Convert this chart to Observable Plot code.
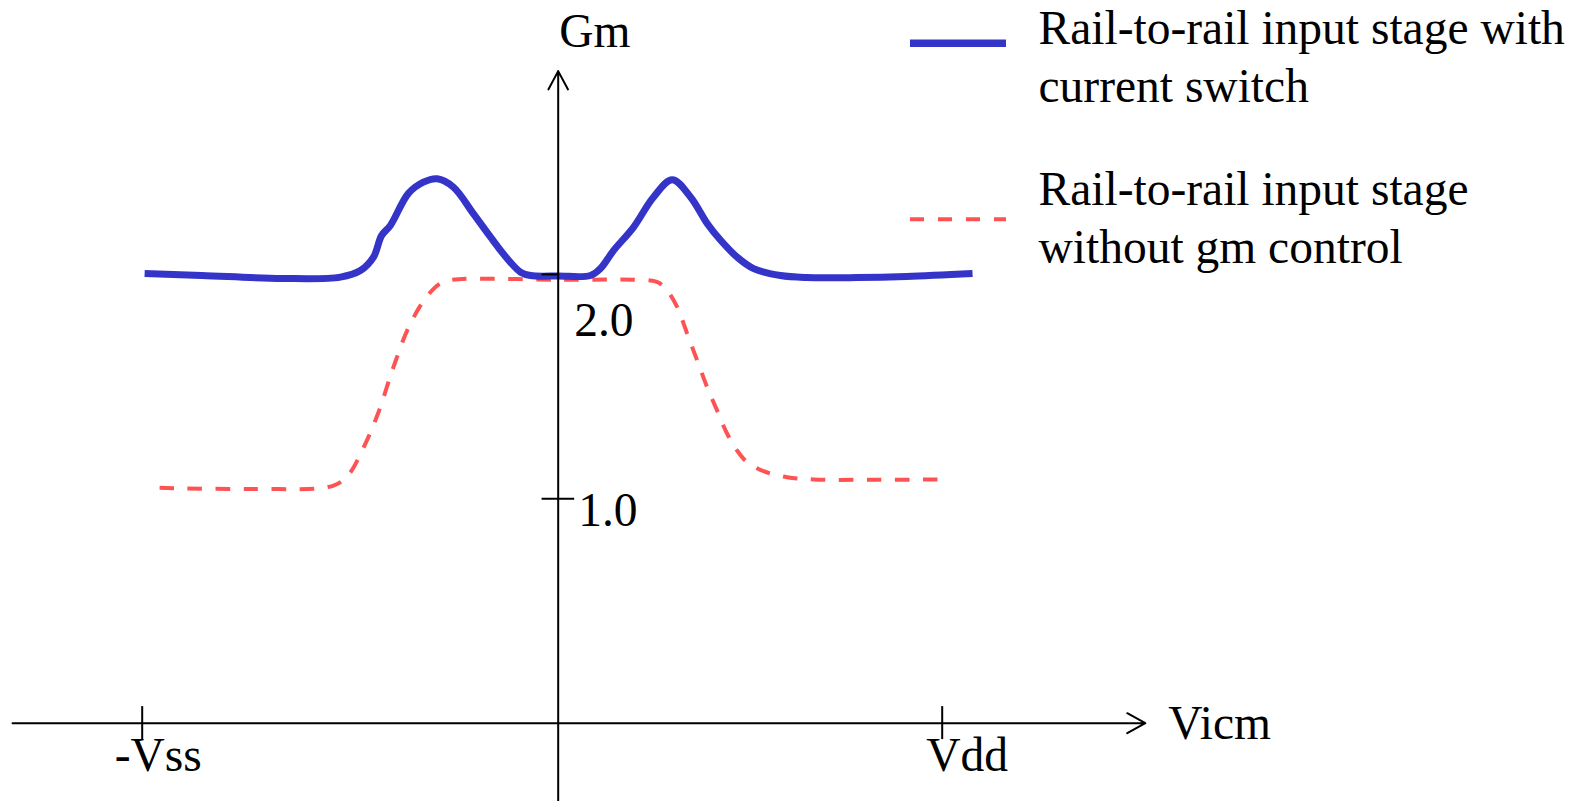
<!DOCTYPE html>
<html><head><meta charset="utf-8">
<script src="https://cdn.jsdelivr.net/npm/d3@7"></script>
<script src="https://cdn.jsdelivr.net/npm/@observablehq/plot@0.6"></script>
<style>html,body{margin:0;padding:0;background:#fff;overflow:hidden}</style>
</head><body><div id="chart"></div>
<script>
// ---- data (Vicm normalised so that Vdd = 1; Gm in chart units) ----
const seriesNames = ["Rail-to-rail input stage with\ncurrent switch", "Rail-to-rail input stage\nwithout gm control"];
const switchVicm = [-1.077,-0.928,-0.718,-0.567,-0.515,-0.481,-0.460,-0.437,-0.390,-0.351,-0.315,-0.273,-0.221,-0.176,-0.133,-0.098,-0.072,0,0.084,0.110,0.144,0.196,0.248,0.297,0.345,0.388,0.423,0.466,0.509,0.579,0.647,0.777,0.907,1.079];
const switchGm   = [2.004,1.995,1.982,1.988,2.017,2.077,2.173,2.218,2.361,2.411,2.426,2.389,2.271,2.166,2.071,2.010,1.995,1.993,1.995,2.026,2.106,2.210,2.344,2.422,2.344,2.227,2.152,2.077,2.026,1.995,1.986,1.986,1.991,2.004];
const noCtrlVicm = [-1.038,-0.797,-0.587,-0.548,-0.508,-0.469,-0.430,-0.390,-0.346,-0.307,-0.275,0,0.240,0.261,0.284,0.310,0.336,0.362,0.388,0.414,0.440,0.466,0.492,0.535,0.596,0.666,0.822,0.996];
const noCtrlGm   = [1.049,1.044,1.058,1.103,1.224,1.381,1.582,1.762,1.893,1.960,1.976,1.976,1.973,1.964,1.928,1.854,1.735,1.616,1.497,1.393,1.290,1.215,1.163,1.123,1.096,1.086,1.085,1.086];
const xTickValues = [-1.0833, 1];
const xTickLabels = ["-Vss", "Vdd"];
const yTickValues = [1, 2];
const yTickLabels = ["1.0", "2.0"];
const xAxisTitle = "Vicm";
const yAxisTitle = "Gm";

// ---- layout / styles ----
const colors = ["#3434c9", "#ff5252"];
const font = "Liberation Serif";
const fs = 47.5;
const xAxisSpan = [-1.421, 1.529];
const yAxisSpan = [-0.36, 2.906];
const legendX = [0.9174, 1.1674];
const legendY = [3.030, 2.246];
const legendTextX = 1.2508;
const xLabelOffsets = [[16, 47.5], [25, 47.5]];
const yLabelOffsets = [[20, 27], [16, 62]];

const switchData = switchVicm.map((x, i) => ({x, y: switchGm[i]}));
const noCtrlData = noCtrlVicm.map((x, i) => ({x, y: noCtrlGm[i]}));

const textOpts = {fontFamily: font, fontSize: fs, fill: "black", lineAnchor: "bottom"};

const chart = Plot.plot({
  width: 1579, height: 801,
  marginTop: 0, marginRight: 0, marginBottom: 0, marginLeft: 0,
  x: {domain: [-1.4523, 2.6596], axis: null},
  y: {domain: [-0.3489, 3.2206], axis: null},
  style: {background: "white", overflow: "visible"},
  marks: [
    Plot.line(noCtrlData, {x: "x", y: "y", stroke: colors[1], strokeWidth: 4, strokeDasharray: "14.5,13.5", strokeLinecap: "butt", curve: "catmull-rom"}),
    Plot.line(switchData, {x: "x", y: "y", stroke: colors[0], strokeWidth: 7, strokeLinecap: "butt", curve: "catmull-rom"}),
    // axes
    Plot.arrow([0], {x1: xAxisSpan[0], x2: xAxisSpan[1], y1: 0, y2: 0, stroke: "black", strokeWidth: 2, headLength: 15.5, headAngle: 58}),
    Plot.arrow([0], {x1: 0, x2: 0, y1: yAxisSpan[0], y2: yAxisSpan[1], stroke: "black", strokeWidth: 2, headLength: 15.5, headAngle: 56}),
    Plot.ruleX(xTickValues, {x: d => d, y1: -0.073, y2: 0.074, stroke: "black", strokeWidth: 2}),
    Plot.ruleY(yTickValues, {y: d => d, x1: -0.042, x2: d => d === 2 ? 0 : 0.043, stroke: "black", strokeWidth: 2}),
    ...xTickValues.map((v, i) => Plot.text([xTickLabels[i]], {x: v, y: 0, text: d => d, dx: xLabelOffsets[i][0], dy: xLabelOffsets[i][1], textAnchor: "middle", ...textOpts})),
    ...yTickValues.map((v, i) => Plot.text([yTickLabels[i]], {x: 0, y: v, text: d => d, dx: yLabelOffsets[i][0], dy: yLabelOffsets[i][1], textAnchor: "start", ...textOpts})),
    Plot.text([xAxisTitle], {x: xAxisSpan[1], y: 0, text: d => d, dx: 23, dy: 15.5, textAnchor: "start", ...textOpts}),
    Plot.text([yAxisTitle], {x: 0, y: yAxisSpan[1], text: d => d, dx: 1, dy: -24.5, textAnchor: "start", ...textOpts}),
    // legend
    Plot.ruleY([legendY[0]], {x1: legendX[0], x2: legendX[1], stroke: colors[0], strokeWidth: 7.5}),
    Plot.ruleY([legendY[1]], {x1: legendX[0], x2: legendX[1], stroke: colors[1], strokeWidth: 4, strokeDasharray: "14,14"}),
    Plot.text([seriesNames[0]], {x: legendTextX, y: legendY[0], text: d => d, dy: 58.8, textAnchor: "start", lineHeight: 1.213, ...textOpts}),
    Plot.text([seriesNames[1]], {x: legendTextX, y: legendY[1], text: d => d, dy: 43.3, textAnchor: "start", lineHeight: 1.213, ...textOpts})
  ]
});
document.getElementById("chart").append(chart);
</script>
</body></html>
